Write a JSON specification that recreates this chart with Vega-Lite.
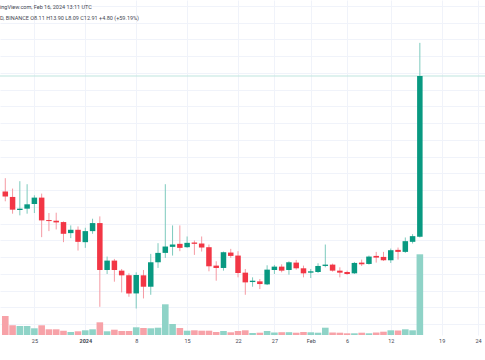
{
  "$schema": "https://vega.github.io/schema/vega-lite/v6.json",
  "width": 485,
  "height": 335,
  "padding": {"left": 0, "top": 0, "right": 0, "bottom": 25},
  "autosize": {"type": "none"},
  "background": "white",
  "config": {"view": {"stroke": null}},
  "title": {
    "text": "ingView.com, Feb 16, 2024 13:11 UTC",
    "subtitle": "D, BINANCE  O8.11  H13.90  L8.09  C12.91  +4.80 (+59.19%)",
    "anchor": "start",
    "frame": "group",
    "offset": -21,
    "font": "Roboto",
    "subtitleFont": "Roboto",
    "fontSize": 5.5,
    "subtitleFontSize": 5.5,
    "fontWeight": "normal",
    "color": "#434651",
    "subtitleColor": "#434651",
    "subtitlePadding": 5
  },
  "data": {"values": [
    {"date": "2023-12-21", "open": 9.46, "high": 9.86, "low": 9.17, "close": 9.31, "volume": 1900000},
    {"date": "2023-12-22", "open": 9.30, "high": 9.55, "low": 8.80, "close": 8.92, "volume": 970000},
    {"date": "2023-12-23", "open": 8.91, "high": 9.77, "low": 8.75, "close": 8.95, "volume": 900000},
    {"date": "2023-12-24", "open": 8.95, "high": 9.68, "low": 8.80, "close": 9.08, "volume": 900000},
    {"date": "2023-12-25", "open": 9.09, "high": 9.35, "low": 8.82, "close": 9.28, "volume": 670000},
    {"date": "2023-12-26", "open": 9.28, "high": 9.40, "low": 8.10, "close": 8.60, "volume": 970000},
    {"date": "2023-12-27", "open": 8.61, "high": 8.82, "low": 8.28, "close": 8.58, "volume": 570000},
    {"date": "2023-12-28", "open": 8.59, "high": 8.83, "low": 8.33, "close": 8.54, "volume": 570000},
    {"date": "2023-12-29", "open": 8.55, "high": 8.57, "low": 7.95, "close": 8.20, "volume": 430000},
    {"date": "2023-12-30", "open": 8.22, "high": 8.45, "low": 8.07, "close": 8.32, "volume": 300000},
    {"date": "2023-12-31", "open": 8.32, "high": 8.42, "low": 7.70, "close": 7.96, "volume": 370000},
    {"date": "2024-01-01", "open": 7.95, "high": 8.38, "low": 7.78, "close": 8.28, "volume": 470000},
    {"date": "2024-01-02", "open": 8.28, "high": 8.65, "low": 8.20, "close": 8.52, "volume": 570000},
    {"date": "2024-01-03", "open": 8.52, "high": 8.72, "low": 6.02, "close": 7.12, "volume": 1270000},
    {"date": "2024-01-04", "open": 7.12, "high": 7.52, "low": 7.00, "close": 7.40, "volume": 370000},
    {"date": "2024-01-05", "open": 7.40, "high": 7.45, "low": 6.77, "close": 7.12, "volume": 530000},
    {"date": "2024-01-06", "open": 7.10, "high": 7.15, "low": 6.45, "close": 6.96, "volume": 400000},
    {"date": "2024-01-07", "open": 6.96, "high": 7.02, "low": 6.32, "close": 6.42, "volume": 400000},
    {"date": "2024-01-08", "open": 6.42, "high": 7.05, "low": 5.97, "close": 6.97, "volume": 770000},
    {"date": "2024-01-09", "open": 6.96, "high": 7.12, "low": 6.27, "close": 6.62, "volume": 700000},
    {"date": "2024-01-10", "open": 6.62, "high": 7.60, "low": 6.38, "close": 7.35, "volume": 670000},
    {"date": "2024-01-11", "open": 7.35, "high": 7.92, "low": 7.18, "close": 7.63, "volume": 730000},
    {"date": "2024-01-12", "open": 7.63, "high": 9.68, "low": 7.48, "close": 7.82, "volume": 3070000},
    {"date": "2024-01-13", "open": 7.81, "high": 8.45, "low": 7.55, "close": 7.88, "volume": 1100000},
    {"date": "2024-01-14", "open": 7.90, "high": 8.45, "low": 7.68, "close": 7.78, "volume": 700000},
    {"date": "2024-01-15", "open": 7.80, "high": 8.12, "low": 7.78, "close": 7.93, "volume": 430000},
    {"date": "2024-01-16", "open": 7.94, "high": 8.00, "low": 7.57, "close": 7.90, "volume": 470000},
    {"date": "2024-01-17", "open": 7.91, "high": 8.12, "low": 7.67, "close": 7.79, "volume": 430000},
    {"date": "2024-01-18", "open": 7.80, "high": 7.88, "low": 7.08, "close": 7.23, "volume": 430000},
    {"date": "2024-01-19", "open": 7.25, "high": 7.38, "low": 6.80, "close": 7.18, "volume": 300000},
    {"date": "2024-01-20", "open": 7.18, "high": 7.67, "low": 7.10, "close": 7.65, "volume": 400000},
    {"date": "2024-01-21", "open": 7.64, "high": 7.75, "low": 7.48, "close": 7.54, "volume": 270000},
    {"date": "2024-01-22", "open": 7.55, "high": 7.68, "low": 6.90, "close": 7.03, "volume": 400000},
    {"date": "2024-01-23", "open": 7.04, "high": 7.15, "low": 6.38, "close": 6.75, "volume": 470000},
    {"date": "2024-01-24", "open": 6.76, "high": 6.90, "low": 6.62, "close": 6.80, "volume": 200000},
    {"date": "2024-01-25", "open": 6.78, "high": 6.85, "low": 6.55, "close": 6.70, "volume": 230000},
    {"date": "2024-01-26", "open": 6.69, "high": 7.26, "low": 6.67, "close": 7.13, "volume": 400000},
    {"date": "2024-01-27", "open": 7.12, "high": 7.27, "low": 7.00, "close": 7.22, "volume": 250000},
    {"date": "2024-01-28", "open": 7.22, "high": 7.29, "low": 7.05, "close": 7.10, "volume": 280000},
    {"date": "2024-01-29", "open": 7.12, "high": 7.38, "low": 6.98, "close": 7.35, "volume": 280000},
    {"date": "2024-01-30", "open": 7.34, "high": 7.42, "low": 7.13, "close": 7.17, "volume": 230000},
    {"date": "2024-01-31", "open": 7.17, "high": 7.25, "low": 6.90, "close": 7.02, "volume": 300000},
    {"date": "2024-02-01", "open": 7.04, "high": 7.15, "low": 6.88, "close": 7.08, "volume": 270000},
    {"date": "2024-02-02", "open": 7.06, "high": 7.32, "low": 7.03, "close": 7.24, "volume": 230000},
    {"date": "2024-02-03", "open": 7.24, "high": 7.88, "low": 7.20, "close": 7.28, "volume": 730000},
    {"date": "2024-02-04", "open": 7.28, "high": 7.31, "low": 7.07, "close": 7.10, "volume": 250000},
    {"date": "2024-02-05", "open": 7.10, "high": 7.20, "low": 6.90, "close": 7.04, "volume": 230000},
    {"date": "2024-02-06", "open": 7.06, "high": 7.10, "low": 6.97, "close": 7.00, "volume": 170000},
    {"date": "2024-02-07", "open": 7.02, "high": 7.36, "low": 7.00, "close": 7.33, "volume": 170000},
    {"date": "2024-02-08", "open": 7.34, "high": 7.43, "low": 7.24, "close": 7.29, "volume": 230000},
    {"date": "2024-02-09", "open": 7.30, "high": 7.55, "low": 7.28, "close": 7.52, "volume": 170000},
    {"date": "2024-02-10", "open": 7.54, "high": 7.66, "low": 7.34, "close": 7.49, "volume": 250000},
    {"date": "2024-02-11", "open": 7.51, "high": 7.66, "low": 7.39, "close": 7.41, "volume": 330000},
    {"date": "2024-02-12", "open": 7.41, "high": 7.76, "low": 7.33, "close": 7.71, "volume": 470000},
    {"date": "2024-02-13", "open": 7.72, "high": 7.79, "low": 7.43, "close": 7.66, "volume": 450000},
    {"date": "2024-02-14", "open": 7.66, "high": 8.09, "low": 7.63, "close": 7.98, "volume": 570000},
    {"date": "2024-02-15", "open": 7.96, "high": 8.19, "low": 7.91, "close": 8.13, "volume": 470000},
    {"date": "2024-02-16", "open": 8.11, "high": 13.90, "low": 8.09, "close": 12.91, "volume": 8070000}
  ]},
  "layer": [
    {
      "mark": {"type": "bar", "size": 6.6},
      "encoding": {
        "x": {
          "field": "date", "type": "temporal",
          "scale": {"type": "utc", "domain": [1703113309440, 1708756093440]},
          "axis": {
            "title": null, "domain": false, "ticks": false, "labelPadding": 3,
            "labelFont": "Roboto", "labelFontSize": 5.5, "labelColor": "#434651",
            "labelFontWeight": {"condition": {"test": "utcdate(datum.value) == 1 && utcmonth(datum.value) == 0", "value": "bold"}, "value": "normal"},
            "grid": true, "gridColor": "#f0f3fa", "gridWidth": 1,
            "labelOverlap": false, "labelFlush": false,
            "values": [
              {"year": 2023, "month": 12, "date": 25, "utc": true},
              {"year": 2024, "month": 1, "date": 1, "utc": true},
              {"year": 2024, "month": 1, "date": 8, "utc": true},
              {"year": 2024, "month": 1, "date": 15, "utc": true},
              {"year": 2024, "month": 1, "date": 22, "utc": true},
              {"year": 2024, "month": 1, "date": 27, "utc": true},
              {"year": 2024, "month": 2, "date": 1, "utc": true},
              {"year": 2024, "month": 2, "date": 6, "utc": true},
              {"year": 2024, "month": 2, "date": 12, "utc": true},
              {"year": 2024, "month": 2, "date": 19, "utc": true},
              {"year": 2024, "month": 2, "date": 24, "utc": true}
            ],
            "labelExpr": "utcdate(datum.value) == 1 ? (utcmonth(datum.value) == 0 ? '2024' : 'Feb') : '' + utcdate(datum.value)"
          }
        },
        "y": {"field": "volume", "type": "quantitative", "scale": {"domain": [0, 33500000], "nice": false}, "axis": null},
        "color": {"condition": {"test": "datum.close >= datum.open", "value": "#8fd3c7"}, "value": "#f7a2a8"}
      }
    },
    {
      "data": {"values": [{"last_close": 12.91}]},
      "mark": {"type": "rule", "color": "#bfe5de", "strokeWidth": 1},
      "encoding": {
        "y": {"field": "last_close", "type": "quantitative", "scale": {"domain": [5.179, 15.179], "nice": false, "zero": false}, "axis": null}
      }
    },
    {
      "mark": {"type": "rule", "strokeWidth": 1},
      "encoding": {
        "x": {"field": "date", "type": "temporal", "scale": {"type": "utc", "domain": [1703113309440, 1708756093440]}},
        "y": {
          "field": "low", "type": "quantitative",
          "scale": {"domain": [5.179, 15.179], "nice": false, "zero": false},
          "axis": {"title": null, "labels": false, "ticks": false, "domain": false, "grid": true, "gridColor": "#f0f3fa",
                   "values": [5.5, 6, 6.5, 7, 7.5, 8, 8.5, 9, 9.5, 10, 10.5, 11, 11.5, 12, 12.5, 13, 13.5, 14, 14.5, 15]}
        },
        "y2": {"field": "high"},
        "color": {"condition": {"test": "datum.close >= datum.open", "value": "#7ccabd"}, "value": "#f59aa3"}
      }
    },
    {
      "mark": {"type": "bar", "size": 5.5},
      "encoding": {
        "x": {"field": "date", "type": "temporal", "scale": {"type": "utc", "domain": [1703113309440, 1708756093440]}},
        "y": {"field": "open", "type": "quantitative", "scale": {"domain": [5.179, 15.179], "nice": false, "zero": false}, "axis": null},
        "y2": {"field": "close"},
        "color": {"condition": {"test": "datum.close >= datum.open", "value": "#089981"}, "value": "#f23645"}
      }
    }
  ],
  "resolve": {"scale": {"y": "independent"}}
}
